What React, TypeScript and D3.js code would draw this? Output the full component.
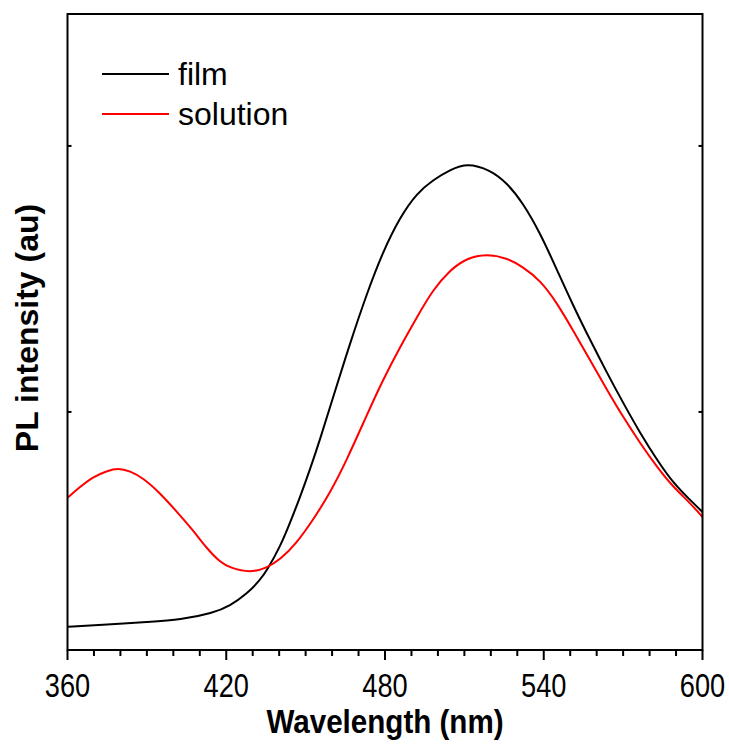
import React, { useEffect, useRef } from "react"
import * as d3 from "d3"

// wavelength (nm) / PL intensity (arbitrary units)
const filmNm = [360, 372.3, 391.2, 402.5, 415, 421.4, 427.8, 432.8, 435.4, 440.3, 444.1, 447.9, 451.6, 455.4, 460.3, 466.8, 473.2, 479.2, 485.7, 492.1, 498.1, 504.6, 511, 519.7, 526.1, 532.1, 538.6, 545, 551, 557.5, 563.9, 570, 576.4, 582.8, 588.9, 595.3, 600]
const filmPL = [1.192, 1.199, 1.211, 1.218, 1.244, 1.271, 1.316, 1.368, 1.405, 1.492, 1.583, 1.68, 1.782, 1.895, 2.053, 2.259, 2.447, 2.602, 2.733, 2.823, 2.872, 2.91, 2.936, 2.91, 2.861, 2.786, 2.673, 2.534, 2.402, 2.271, 2.147, 2.034, 1.921, 1.82, 1.733, 1.669, 1.624]

const solNm = [360, 364.7, 369.6, 374.9, 379.1, 383.6, 388.5, 395, 401.4, 407.4, 412.7, 417.6, 421.4, 429, 435.4, 440.3, 446.7, 452.8, 459.2, 465.6, 473.2, 479.2, 485.7, 492.1, 498.1, 504.6, 511, 518.5, 526.1, 532.1, 538.6, 545, 551, 557.5, 563.9, 570, 576.4, 582.8, 588.9, 595.3, 600]
const solPL = [1.677, 1.718, 1.756, 1.778, 1.789, 1.778, 1.752, 1.695, 1.624, 1.556, 1.486, 1.436, 1.414, 1.395, 1.414, 1.444, 1.508, 1.594, 1.695, 1.82, 1.99, 2.12, 2.244, 2.357, 2.459, 2.534, 2.579, 2.594, 2.579, 2.545, 2.496, 2.41, 2.308, 2.195, 2.083, 1.981, 1.883, 1.793, 1.718, 1.658, 1.605]

const xMajor = [360, 420, 480, 540, 600]
const yTicks = [2, 3]
const series = [
  { name: "film", color: "#000000", x: filmNm, y: filmPL },
  { name: "solution", color: "#ff0000", x: solNm, y: solPL },
]

const App = () => {
  const ref = useRef(null)

  useEffect(() => {
    const dims = { width: 729, height: 744, left: 67.5, right: 702.5, top: 14, bottom: 650 }

    d3.select(ref.current).selectAll("*").remove()

    const svg = d3.select(ref.current)
      .append("svg")
      .attr("width", dims.width)
      .attr("height", dims.height)
      .style("position", "absolute")
      .style("left", "0px")
      .style("top", "0px")
      .style("background", "white")

    const xScale = d3.scaleLinear().domain([360, 600]).range([dims.left, dims.right])
    const yScale = d3.scaleLinear().domain([1.105, 3.496]).range([dims.bottom, dims.top])

    // Curves
    const line = d3.line()
      .x(d => xScale(d[0]))
      .y(d => yScale(d[1]))
      .curve(d3.curveBasis)

    series.forEach(s => {
      svg.append("path")
        .datum(s.x.map((v, i) => [v, s.y[i]]))
        .attr("d", line)
        .attr("fill", "none")
        .attr("stroke", s.color)
        .attr("stroke-width", 2)
    })

    // Frame
    svg.append("rect")
      .attr("x", dims.left)
      .attr("y", dims.top)
      .attr("width", dims.right - dims.left)
      .attr("height", dims.bottom - dims.top)
      .attr("fill", "none")
      .attr("stroke", "black")
      .attr("stroke-width", 2)

    // X ticks (outside)
    const minor = d3.range(360, 601, 10)
    svg.append("g").selectAll("line")
      .data(minor)
      .join("line")
      .attr("x1", d => xScale(d))
      .attr("x2", d => xScale(d))
      .attr("y1", dims.bottom)
      .attr("y2", d => dims.bottom + (xMajor.includes(d) ? 10 : 6))
      .attr("stroke", "black")
      .attr("stroke-width", 2)

    svg.append("g").selectAll("text")
      .data(xMajor)
      .join("text")
      .attr("transform", d => `translate(${xScale(d)},697) scale(0.8,1)`)
      .attr("text-anchor", "middle")
      .style("font-family", "Liberation Sans, Arial, sans-serif")
      .style("font-size", "34px")
      .text(d => d)

    // Y ticks (inside, both sides)
    ;[dims.left, dims.right].forEach((x0, k) => {
      svg.append("g").selectAll("line")
        .data(yTicks)
        .join("line")
        .attr("x1", x0)
        .attr("x2", x0 + (k === 0 ? 4 : -4))
        .attr("y1", d => yScale(d))
        .attr("y2", d => yScale(d))
        .attr("stroke", "black")
        .attr("stroke-width", 2)
    })

    // Axis titles
    svg.append("text")
      .attr("transform", `translate(${(dims.left + dims.right) / 2},733) scale(0.87,1)`)
      .attr("text-anchor", "middle")
      .style("font-family", "Liberation Sans, Arial, sans-serif")
      .style("font-weight", "bold")
      .style("font-size", "34px")
      .text("Wavelength (nm)")

    svg.append("text")
      .attr("transform", `translate(38,328) rotate(-90)`)
      .attr("text-anchor", "middle")
      .style("font-family", "Liberation Sans, Arial, sans-serif")
      .style("font-weight", "bold")
      .style("font-size", "32px")
      .text("PL intensity (au)")

    // Legend
    const legend = svg.append("g")
    series.forEach((s, i) => {
      const y = 74 + i * 40
      legend.append("line")
        .attr("x1", 102)
        .attr("x2", 169)
        .attr("y1", y)
        .attr("y2", y)
        .attr("stroke", s.color)
        .attr("stroke-width", 2)
      legend.append("text")
        .attr("x", 178)
        .attr("y", y + 11)
        .style("font-family", "Liberation Sans, Arial, sans-serif")
        .style("font-size", "32px")
        .text(s.name)
    })
  }, [])

  return <div ref={ref}></div>
}

export default App
